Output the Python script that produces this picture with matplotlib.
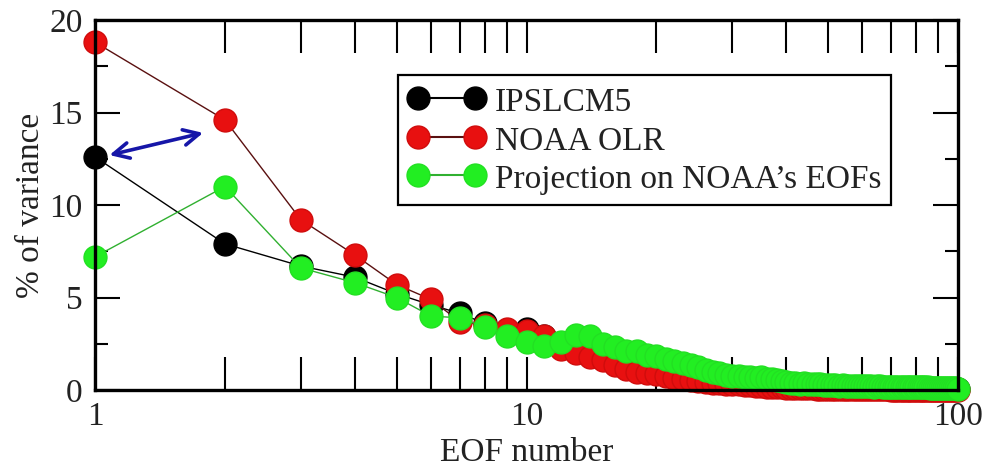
import matplotlib
matplotlib.use("Agg")
import matplotlib.pyplot as plt
from matplotlib.ticker import FixedLocator, NullFormatter

plt.rcParams['font.family'] = ['Liberation Serif', 'DejaVu Serif']

# EOF index 1..100
eof = list(range(1, 101))

# % of variance explained by each EOF
ipslcm5 = [12.6, 7.9, 6.7, 6.1, 5.2, 4.6, 4.15, 3.6, 3.2, 3.3,
           2.9, 2.5, 2.4, 2.2, 2.0, 1.8, 1.6, 1.5, 1.4, 1.3,
           1.2, 1.1, 1.0, 0.95, 0.85, 0.8, 0.7, 0.65, 0.6, 0.55,
           0.5, 0.48, 0.45, 0.42, 0.4, 0.38, 0.35, 0.33, 0.3, 0.28,
           0.26, 0.25, 0.24, 0.22, 0.2, 0.2, 0.19, 0.18, 0.17, 0.16,
           0.15, 0.15, 0.14, 0.14, 0.13, 0.13, 0.12, 0.12, 0.12, 0.11,
           0.11, 0.11, 0.1, 0.1, 0.1, 0.1, 0.09, 0.09, 0.09, 0.09,
           0.08, 0.08, 0.08, 0.08, 0.08, 0.07, 0.07, 0.07, 0.07, 0.07,
           0.07, 0.06, 0.06, 0.06, 0.06, 0.06, 0.06, 0.06, 0.05, 0.05,
           0.05, 0.05, 0.05, 0.05, 0.05, 0.05, 0.05, 0.05, 0.05, 0.05]

noaa_olr = [18.8, 14.6, 9.2, 7.3, 5.7, 4.9, 3.7, 3.5, 3.3, 3.2,
            2.9, 2.2, 2.0, 1.8, 1.6, 1.35, 1.15, 1.0, 0.9, 0.85,
            0.75, 0.65, 0.6, 0.55, 0.5, 0.45, 0.4, 0.38, 0.35, 0.32,
            0.3, 0.28, 0.25, 0.22, 0.2, 0.18, 0.16, 0.15, 0.14, 0.13,
            0.12, 0.11, 0.1, 0.1, 0.09, 0.09, 0.08, 0.08, 0.07, 0.07,
            0.07, 0.06, 0.06, 0.06, 0.05, 0.05, 0.05, 0.05, 0.04, 0.04,
            0.04, 0.04, 0.04, 0.03, 0.03, 0.03, 0.03, 0.03, 0.03, 0.02,
            0.02, 0.02, 0.02, 0.02, 0.02, 0.02, 0.02, 0.02, 0.02, 0.02,
            0.02, 0.02, 0.02, 0.01, 0.01, 0.01, 0.01, 0.01, 0.01, 0.01,
            0.01, 0.01, 0.01, 0.01, 0.01, 0.01, 0.01, 0.01, 0.01, 0.01]

projection = [7.2, 11.0, 6.6, 5.8, 5.0, 4.0, 3.9, 3.4, 2.9, 2.6,
              2.4, 2.6, 3.0, 2.9, 2.5, 2.3, 2.1, 2.1, 1.9, 1.85,
              1.7, 1.55, 1.45, 1.35, 1.25, 1.1, 1.0, 0.9, 0.8, 0.75,
              0.75, 0.7, 0.7, 0.65, 0.7, 0.6, 0.6, 0.55, 0.5, 0.45,
              0.4, 0.4, 0.35, 0.4, 0.35, 0.3, 0.3, 0.3, 0.25, 0.25,
              0.25, 0.25, 0.2, 0.25, 0.2, 0.2, 0.2, 0.2, 0.2, 0.2,
              0.2, 0.2, 0.2, 0.18, 0.2, 0.2, 0.18, 0.18, 0.18, 0.18,
              0.18, 0.16, 0.16, 0.18, 0.16, 0.16, 0.15, 0.15, 0.15, 0.15,
              0.15, 0.14, 0.14, 0.14, 0.14, 0.13, 0.13, 0.12, 0.12, 0.12,
              0.12, 0.11, 0.11, 0.1, 0.1, 0.1, 0.1, 0.09, 0.09, 0.08]

labels = ["IPSLCM5", "NOAA OLR", "Projection on NOAA\u2019s EOFs"]

fig = plt.figure(figsize=(9.89, 4.70), dpi=100)
ax = fig.add_axes([0.0961, 0.1702, 0.8726, 0.7872])

ms = 16.5
# black set first, then red, then green on top; markers spill past the frame
ax.plot(eof, ipslcm5, '-o', color='black', lw=1.0, ms=ms,
        mfc='black', mec='black', label=labels[0], clip_on=False)
ax.plot(eof, noaa_olr, '-o', color='#5a1010', lw=1.0, ms=ms,
        mfc='#e81010', mec='#d00c0c', label=labels[1], clip_on=False)
ax.plot(eof, projection, '-o', color='#30b030', lw=1.0, ms=ms,
        mfc='#22ee22', mec='#22e022', label=labels[2], clip_on=False)

# double arrow between the leading EOFs
ax.annotate('', xy=(1.08, 12.7), xytext=(1.78, 13.9),
            arrowprops=dict(arrowstyle='<->', color='#1616a8', lw=2.6,
                            mutation_scale=28, shrinkA=0, shrinkB=0))

ax.set_xscale('log')
ax.set_xlim(1, 100)
ax.set_ylim(0, 20)

ax.xaxis.set_major_locator(FixedLocator([1, 10, 100]))
ax.xaxis.set_major_formatter(plt.FuncFormatter(lambda v, p: f"{v:g}"))
minors = [m * d for d in (1, 10) for m in range(2, 10)]
ax.xaxis.set_minor_locator(FixedLocator(minors))
ax.xaxis.set_minor_formatter(NullFormatter())
ax.yaxis.set_major_locator(FixedLocator([0, 5, 10, 15, 20]))
ax.yaxis.set_minor_locator(FixedLocator([2.5, 7.5, 12.5, 17.5]))

for s in ax.spines.values():
    s.set_linewidth(2.4)
    s.set_zorder(5)

ax.tick_params(axis='x', which='both', direction='in', top=True, bottom=True,
               length=24, width=1.5, labelsize=24, pad=8, colors='black')
ax.tick_params(axis='y', which='major', direction='in', left=True, right=True,
               length=18, width=1.5, labelsize=24, pad=9)
ax.tick_params(axis='y', which='minor', direction='in', left=True, right=True,
               length=9.5, width=1.5)
for lab in ax.get_xticklabels() + ax.get_yticklabels():
    lab.set_color('#222222')

ax.set_xlabel("EOF number", fontsize=24, color='#222222', labelpad=4)
ax.set_ylabel("% of variance", fontsize=24, color='#222222', labelpad=2)

leg = ax.legend(loc='upper left', bbox_to_anchor=(398 / 989, 1 - 75 / 470),
                bbox_transform=fig.transFigure, borderaxespad=0,
                fontsize=24, numpoints=2, handlelength=2.3, handleheight=1.0,
                handletextpad=0.3, borderpad=0.3, labelspacing=0.15,
                fancybox=False, framealpha=1, edgecolor='black')
leg.get_frame().set_linewidth(1.6)
for t in leg.get_texts():
    t.set_color('#222222')
for h in leg.legend_handles:
    h.set_linewidth(1.5)

fig.savefig("out.png", dpi=100)
